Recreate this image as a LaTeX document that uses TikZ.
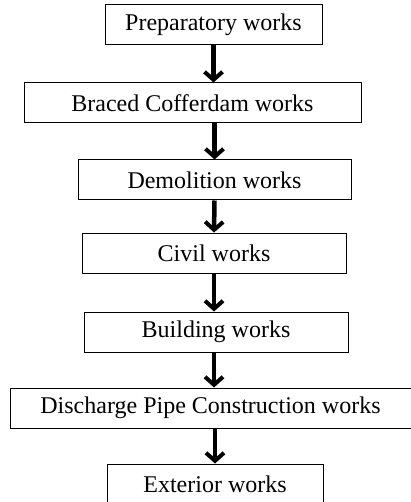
\documentclass[tikz,border=0pt]{standalone}
\usepackage{fontspec}
\setmainfont{Liberation Serif}
\usepackage{tikz}
\usetikzlibrary{calc}
\usetikzlibrary{arrows.meta}
\usetikzlibrary{positioning}
\tikzset{
	stage/.style={
		draw,
		rectangle,
		line width=1pt,
		minimum height=40pt,
		inner sep=0pt,
		font=\fontsize{24}{28}\selectfont,
	},
	flow/.style={
		line width=4.5pt,
		-{Straight Barb[length=8pt,width=18pt,line width=4pt]}
	},
}

\begin{document}
\begin{tikzpicture}[x=1pt,y=-1pt]
		\useasboundingbox (0,0) rectangle (411,502);

		\node[stage, minimum width=217pt] (prep) at (213.5,25) {Preparatory works};
		\node[stage, minimum width=337pt] (braced) at (192.5,103) {Braced Cofferdam works};
		\node[stage, minimum width=273pt] (demol) at (214.5,180) {Demolition works};
		\node[stage, minimum width=264pt] (civil) at (214,253) {Civil works};
		\node[stage, minimum width=264pt] (build) at (216,332) {Building works};
		\node[stage, minimum width=401pt] (pipe) at (210.5,408) {Discharge Pipe Construction works};
		\node[stage, minimum width=216pt] (ext) at (215,484) {Exterior works};

		\draw[flow] (prep.south) -- (prep.south |- braced.north);
		\draw[flow] (demol.north |- braced.south) -- (demol.north);
		\draw[flow] (demol.south) -- (civil.north);
		\draw[flow] (civil.south) -- (civil.south |- build.north);
		\draw[flow] (build.south -| civil.south) -- (civil.south |- pipe.north);
		\draw[flow] (pipe.south -| ext.north) -- (ext.north);

	\end{tikzpicture}
\end{document}
